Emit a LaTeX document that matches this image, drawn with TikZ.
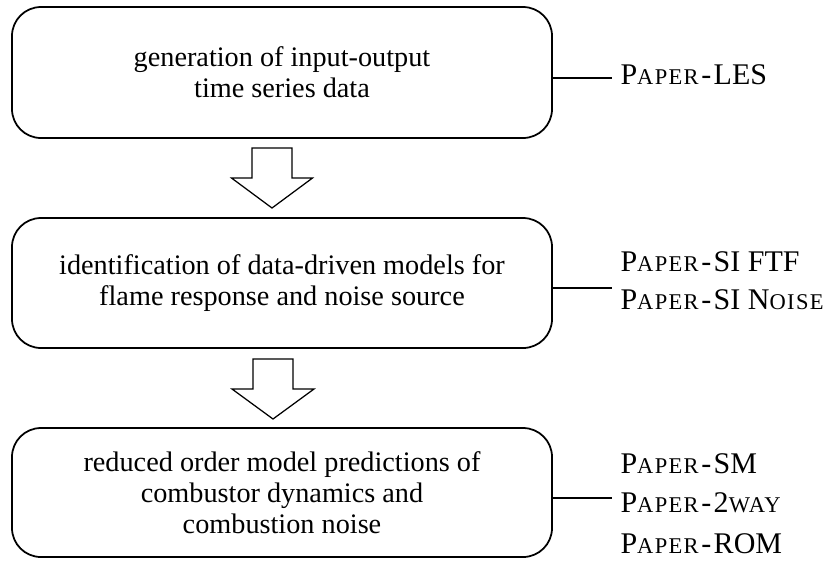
\documentclass[tikz,border=0pt]{standalone}
\usepackage{fontspec}
\setmainfont{Liberation Serif}
% faked small capitals: the lower-case part is set in reduced, slightly spaced upper case
\newcommand{\fsc}[1]{{\fontsize{9pt}{10pt}\selectfont\addfontfeature{LetterSpace=6}#1}}
\newcommand{\paper}{P\fsc{APER}\kern1pt-\kern1pt}
\begin{document}
\begin{tikzpicture}[x=0.4pt,y=-0.4pt,
  stagebox/.style={draw, line width=0.7pt, rounded corners=11.6pt,
    minimum width=216pt, inner sep=0pt, align=center,
    font=\fontsize{11.3pt}{12.4pt}\selectfont},
  link/.style={draw, line width=0.45pt},
  paperlabel/.style={anchor=west, inner sep=0pt, font=\fontsize{12pt}{14pt}\selectfont},
  blockarrow/.style={draw, line width=0.5pt, line join=miter}]
\useasboundingbox (0,0) rectangle (832,561);

% the three stages
\node[stagebox, minimum height=52.4pt] (b1) at (282,72.5)
  {generation of input-output\\time series data};
\node[stagebox, minimum height=52pt] (b2) at (282,283)
  {identification of data-driven models for\\flame response and noise source};
\node[stagebox, minimum height=51.6pt] (b3) at (282,492.5)
  {reduced order model predictions of\\combustor dynamics and\\combustion noise};

% hollow block arrows between the stages
\coordinate (a1) at (272,148);
\draw[blockarrow] (a1) ++(-20,0) -- ++(40,0) -- ++(0,30) -- ++(20.5,0)
  -- ++(-40.5,30) -- ++(-40.5,-30) -- ++(20.5,0) -- cycle;
\coordinate (a2) at (273,359);
\draw[blockarrow] (a2) ++(-20,0) -- ++(40,0) -- ++(0,30) -- ++(21,0)
  -- ++(-41,30) -- ++(-41,-30) -- ++(21,0) -- cycle;

% papers belonging to each stage
\node[paperlabel] (p1) at (620,75) {\paper LES};
\node[paperlabel] (p2a) at (620,262) {\paper SI FTF};
\node[paperlabel] (p2b) at (620,300) {\paper SI N\fsc{OISE}};
\node[paperlabel] (p3a) at (620,464) {\paper SM};
\node[paperlabel] (p3b) at (620,503) {\paper 2\fsc{WAY}};
\node[paperlabel] (p3c) at (620,544) {\paper ROM};

\coordinate (e1) at (612,78);
\coordinate (e2) at (612,288);
\coordinate (e3) at (612,498);
\draw[link] (b1.east |- e1) -- (e1);
\draw[link] (b2.east |- e2) -- (e2);
\draw[link] (b3.east |- e3) -- (e3);
\end{tikzpicture}
\end{document}
